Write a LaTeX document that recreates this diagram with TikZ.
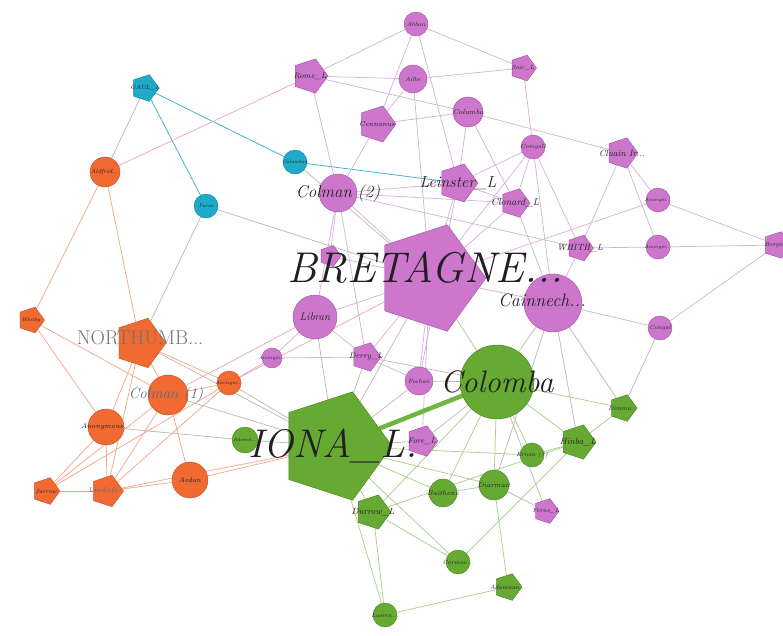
\documentclass[tikz,border=0pt]{standalone}
\usetikzlibrary{shapes.geometric,backgrounds}
\definecolor{purpF}{RGB}{204,119,204}
\definecolor{purpD}{RGB}{160,80,160}
\definecolor{grnF}{RGB}{102,170,51}
\definecolor{grnD}{RGB}{70,130,30}
\definecolor{orF}{RGB}{240,106,50}
\definecolor{orD}{RGB}{190,80,40}
\definecolor{cyF}{RGB}{30,170,200}
\definecolor{cyD}{RGB}{20,130,160}
\definecolor{ePuC}{RGB}{212,180,216}
\definecolor{eGrC}{RGB}{170,208,142}
\definecolor{eOrC}{RGB}{242,168,140}
\definecolor{eCyC}{RGB}{60,175,205}
\definecolor{eXC}{RGB}{190,188,176}
\definecolor{ePkC}{RGB}{232,168,190}
\definecolor{eThick}{RGB}{112,182,64}
\definecolor{labcol}{RGB}{35,30,35}
\definecolor{labblue}{RGB}{90,105,125}
\tikzset{
  pc/.style={circle,draw=purpD,fill=purpF,inner sep=0pt,minimum size=#1},
  pp/.style={regular polygon,regular polygon sides=5,shape border rotate=-90,draw=purpD,fill=purpF,inner sep=0pt,minimum size=#1},
  gc/.style={circle,draw=grnD,fill=grnF,inner sep=0pt,minimum size=#1},
  gp/.style={regular polygon,regular polygon sides=5,shape border rotate=-90,draw=grnD,fill=grnF,inner sep=0pt,minimum size=#1},
  oc/.style={circle,draw=orD,fill=orF,inner sep=0pt,minimum size=#1},
  op/.style={regular polygon,regular polygon sides=5,shape border rotate=-90,draw=orD,fill=orF,inner sep=0pt,minimum size=#1},
  cc/.style={circle,draw=cyD,fill=cyF,inner sep=0pt,minimum size=#1},
  cp/.style={regular polygon,regular polygon sides=5,shape border rotate=-90,draw=cyD,fill=cyF,inner sep=0pt,minimum size=#1},
  lbl/.style={font=\itshape\fontsize{#1}{#1}\selectfont,inner sep=0pt,text=labcol},
  ePu/.style={draw=ePuC,line width=0.75pt},
  eGr/.style={draw=eGrC,line width=0.75pt},
  eOr/.style={draw=eOrC,line width=0.75pt},
  eCy/.style={draw=eCyC,line width=0.75pt},
  eX/.style={draw=eXC,line width=0.75pt},
  ePk/.style={draw=ePkC,line width=0.75pt}
}
\begin{document}
\begin{tikzpicture}[x=1pt,y=-1pt]
    \useasboundingbox (0,0) rectangle (783,635);

    % cyan group
    \node[cp=28,label={[lbl=6]center:GAUL\_L}] (gaul) at (145,88) {};
    \node[cc=24,label={[lbl=5]center:Columban}] (columban) at (295,162) {};
    \node[cc=24,label={[lbl=5]center:Fursa}] (fursa) at (206,206) {};

    % orange group
    \node[oc=30,label={[lbl=6]center:Aldfrid...}] (aldfrid) at (105,172) {};
    \node[op=27,label={[lbl=5]center:Whitby}] (whitby) at (31,320) {};
    \node[oc=24,label={[lbl=5]center:Anonym...}] (anonO) at (229,383) {};
    \node[oc=36,label={[lbl=7]center:Anonymous...}] (anonymous) at (106,427) {};
    \node[oc=36,label={[lbl=7]center:Aedan}] (aedan) at (190,480) {};
    \node[op=28,label={[lbl=6]center:Jarrow}] (jarrow) at (46,491) {};
    \node[op=33,label={[lbl=7,text=labblue]center:Lindisfa...}] (lindis) at (107,491) {};
    \node[oc=40] (colmanA) at (168,395) {};
    \node[op=52] (northumb) at (140,343) {};

    % purple group
    \node[pc=24,label={[lbl=6]center:Abban}] (abban) at (416,24) {};
    \node[pp=36,label={[lbl=8]center:Rome\_L}] (romeL) at (310,76) {};
    \node[pc=28,label={[lbl=6]center:Ailbe}] (ailbe) at (413,79) {};
    \node[pp=27,label={[lbl=6]center:Sair\_L}] (sairL) at (523,68) {};
    \node[pp=38,label={[lbl=7]center:Cennanus}] (cennanus) at (377,124) {};
    \node[pc=30,label={[lbl=7]center:Columba}] (columba) at (468,112) {};
    \node[pc=24,label={[lbl=6]center:Comgall}] (comgall) at (533,147) {};
    \node[pp=32,label={[lbl=9]center:Cluain Ir...}] (cluan) at (622,153) {};
    \node[pc=24,label={[lbl=5]center:Anonym...}] (anonA) at (658,200) {};
    \node[pc=24,label={[lbl=5]center:Anonym...}] (anonB) at (658,247) {};
    \node[pp=28,label={[lbl=6]center:Bergn...}] (berg) at (777,245) {};
    \node[pp=27,label={[lbl=9]center:WHITH\_L}] (whith) at (580,248) {};
    \node[pc=24,label={[lbl=6]center:Congal}] (congal) at (660,328) {};
    \node[pp=22] (smallP) at (330,256) {};
    \node[pc=20,label={[lbl=5]center:Anonym...}] (anonP) at (272,358) {};
    \node[pp=30,label={[lbl=8]center:Derry\_L}] (derry) at (366,357) {};
    \node[pc=28,label={[lbl=6]center:Fochan}] (fochan) at (419,381) {};
    \node[pp=32,label={[lbl=8]center:Fore\_L}] (fore) at (422,441) {};
    \node[pp=26,label={[lbl=6]center:Ferns\_L}] (ferns) at (546,511) {};
    \node[pc=44,label={[lbl=11]center:Libran}] (libra) at (315,317) {};
    \node[pp=40,label={[lbl=16]center:Leinster\_L}] (leinster) at (458,183) {};
    \node[pp=30,label={[lbl=10]center:Clonard\_L}] (clonard) at (515,203) {};
    \node[pc=38,label={[lbl=17]center:Colman (2)}] (colmanB) at (338,193) {};
    \node[pp=112] (bretagne) at (430,278) {};
    \node[pc=58] (cainnech) at (553,303) {};

    % green group
    \node[gc=26,label={[lbl=5]center:Adomn...}] (adomn) at (245,440) {};
    \node[gp=28,label={[lbl=6]center:Dimma...}] (dimma) at (623,408) {};
    \node[gp=36,label={[lbl=9]center:Hinba\_L}] (hinba) at (578,442) {};
    \node[gc=24,label={[lbl=6]center:Ernan (?)}] (ernan) at (532,455) {};
    \node[gc=28,label={[lbl=7]center:Baithene}] (baithene) at (443,493) {};
    \node[gc=30,label={[lbl=7]center:Diarmait}] (diarmait) at (494,485) {};
    \node[gp=36,label={[lbl=9]center:Durrow\_L}] (durrow) at (373,512) {};
    \node[gc=24,label={[lbl=6]center:Cormac...}] (cormac) at (458,562) {};
    \node[gp=28,label={[lbl=6]center:Adamnan...}] (adamnan) at (508,587) {};
    \node[gc=24,label={[lbl=6]center:Lasren...}] (lasren) at (385,615) {};
    \node[gc=74] (colomba) at (497,382) {};
    \node[gp=114] (iona) at (335,446) {};

    % big labels
    \node[lbl=15,text=labblue] (colmanAtxt) at (166,395) {Colman (1)};
    \node[lbl=20,font=\fontsize{20}{20}\selectfont,text=black!55] (northumbtxt) at (140,338) {NORTHUMB...};
    \node[lbl=18] (cainnechtxt) at (542,300) {Cainnech...};
    \node[lbl=43] (bretagnetxt) at (425,268) {BRETAGNE...};
    \node[lbl=31] (colombatxt) at (497,382) {Colomba};
    \node[lbl=40] (ionatxt) at (333,446) {IONA\_L.};

    \begin{pgfonlayer}{background}
    \draw[eCy] (gaul) -- (columban);
    \draw[eCy] (gaul) -- (fursa);
    \draw[eX] (gaul) -- (aldfrid);
    \draw[eCy] (columban) -- (leinster);
    \draw[eX] (columban) -- (bretagne);
    \draw[eX] (fursa) -- (bretagne);
    \draw[eX] (fursa) -- (northumb);

    \draw[ePk] (aldfrid) -- (romeL);
    \draw[eOr] (aldfrid) -- (whitby);
    \draw[eOr] (aldfrid) -- (northumb);
    \draw[eOr] (whitby) -- (colmanA);
    \draw[eOr] (whitby) -- (anonymous);
    \draw[eOr] (northumb) -- (colmanA);
    \draw[eOr] (northumb) -- (anonO);
    \draw[eOr] (northumb) -- (anonymous);
    \draw[eOr] (northumb) -- (lindis);
    \draw[eX] (northumb) -- (iona);
    \draw[eOr] (colmanA) -- (jarrow);
    \draw[eOr] (colmanA) -- (lindis);
    \draw[eOr] (colmanA) -- (aedan);
    \draw[eOr] (colmanA) -- (anonO);
    \draw[eX] (colmanA) -- (iona);
    \draw[ePk] (colmanA) -- (libra);
    \draw[eOr] (anonymous) -- (jarrow);
    \draw[eOr] (anonymous) -- (lindis);
    \draw[eX] (anonymous) -- (adomn);
    \draw[eOr] (jarrow) -- (lindis);
    \draw[eOr] (jarrow) -- (anonO);
    \draw[eOr] (lindis) -- (aedan);
    \draw[eOr] (lindis) -- (anonO);
    \draw[eOr] (lindis) -- (iona);
    \draw[eOr] (aedan) -- (iona);
    \draw[ePk] (anonO) -- (anonP);
    \draw[ePk] (anonO) -- (bretagne);
    \draw[eX] (anonO) -- (iona);

    \draw[ePu] (abban) -- (romeL);
    \draw[ePu] (abban) -- (sairL);
    \draw[ePu] (abban) -- (cennanus);
    \draw[ePu] (abban) -- (leinster);
    \draw[ePu] (romeL) -- (ailbe);
    \draw[ePu] (romeL) -- (columba);
    \draw[ePu] (romeL) -- (colmanB);
    \draw[ePu] (ailbe) -- (sairL);
    \draw[ePu] (ailbe) -- (cennanus);
    \draw[ePu] (ailbe) -- (bretagne);
    \draw[ePu] (sairL) -- (comgall);
    \draw[ePu] (cennanus) -- (columba);
    \draw[ePu] (cennanus) -- (colmanB);
    \draw[ePu] (columba) -- (leinster);
    \draw[ePu] (columba) -- (clonard);
    \draw[ePu] (columba) -- (cluan);
    \draw[ePu] (comgall) -- (leinster);
    \draw[ePu] (comgall) -- (clonard);
    \draw[ePu] (comgall) -- (whith);
    \draw[ePu] (comgall) -- (bretagne);
    \draw[ePu] (comgall) -- (cainnech);
    \draw[ePu] (cluan) -- (anonA);
    \draw[ePu] (cluan) -- (anonB);
    \draw[ePu] (cluan) -- (whith);
    \draw[ePu] (anonA) -- (berg);
    \draw[ePu] (anonA) -- (bretagne);
    \draw[ePu] (anonB) -- (berg);
    \draw[ePu] (anonB) -- (whith);
    \draw[ePu] (berg) -- (congal);
    \draw[ePu] (congal) -- (cainnech);
    \draw[eX] (congal) -- (dimma);
    \draw[ePu] (whith) -- (cainnech);
    \draw[ePu] (whith) -- (colmanB);
    \draw[ePu] (colmanB) -- (leinster);
    \draw[ePu] (colmanB) -- (clonard);
    \draw[ePu] (colmanB) -- (bretagne);
    \draw[ePu] (colmanB) -- (libra);
    \draw[ePu] (colmanB) -- (derry);
    \draw[ePu] (leinster) -- (bretagne);
    \draw[ePu] (leinster) -- (clonard);
    \draw[ePu] (leinster) -- (fochan);
    \draw[ePu] (clonard) -- (bretagne);
    \draw[ePu] (clonard) -- (cainnech);
    \draw[ePu] (smallP) -- (bretagne);
    \draw[ePu] (smallP) -- (colmanB);
    \draw[ePu] (bretagne) -- (libra);
    \draw[ePu] (bretagne) -- (cainnech);
    \draw[ePu] (bretagne) -- (derry);
    \draw[ePu] (bretagne) -- (fochan);
    \draw[ePu] (bretagne) -- (fore);
    \draw[eX] (bretagne) -- (iona);
    \draw[eX] (bretagne) -- (colomba);
    \draw[eX] (cainnech) -- (colomba);
    \draw[eX] (cainnech) -- (hinba);
    \draw[eX] (cainnech) -- (dimma);
    \draw[eX] (cainnech) -- (diarmait);
    \draw[ePu] (libra) -- (derry);
    \draw[ePu] (libra) -- (anonP);
    \draw[eX] (libra) -- (iona);
    \draw[ePu] (anonP) -- (derry);
    \draw[ePu] (derry) -- (fochan);
    \draw[eX] (derry) -- (iona);
    \draw[eX] (derry) -- (colomba);
    \draw[eX] (fochan) -- (colomba);
    \draw[eX] (fochan) -- (iona);
    \draw[eX] (fore) -- (iona);
    \draw[eX] (fore) -- (colomba);
    \draw[eX] (ferns) -- (diarmait);
    \draw[eX] (ferns) -- (colomba);

    \draw[draw=eThick,line width=4.5pt] (colomba) -- (iona);
    \draw[eGr] (colomba) -- (dimma);
    \draw[eGr] (colomba) -- (hinba);
    \draw[eGr] (colomba) -- (ernan);
    \draw[eGr] (colomba) -- (diarmait);
    \draw[eGr] (colomba) -- (baithene);
    \draw[eGr] (colomba) -- (durrow);
    \draw[eGr] (iona) -- (adomn);
    \draw[eGr] (iona) -- (ernan);
    \draw[eGr] (iona) -- (diarmait);
    \draw[eGr] (iona) -- (baithene);
    \draw[eGr] (iona) -- (durrow);
    \draw[eGr] (iona) -- (cormac);
    \draw[eGr] (iona) -- (lasren);
    \draw[eGr] (hinba) -- (dimma);
    \draw[eGr] (hinba) -- (ernan);
    \draw[eGr] (hinba) -- (durrow);
    \draw[eGr] (hinba) -- (cormac);
    \draw[eGr] (diarmait) -- (adamnan);
    \draw[eGr] (diarmait) -- (baithene);
    \draw[eGr] (durrow) -- (cormac);
    \draw[eGr] (durrow) -- (lasren);
    \draw[eGr] (lasren) -- (adamnan);
    \end{pgfonlayer}
\end{tikzpicture}
\end{document}
